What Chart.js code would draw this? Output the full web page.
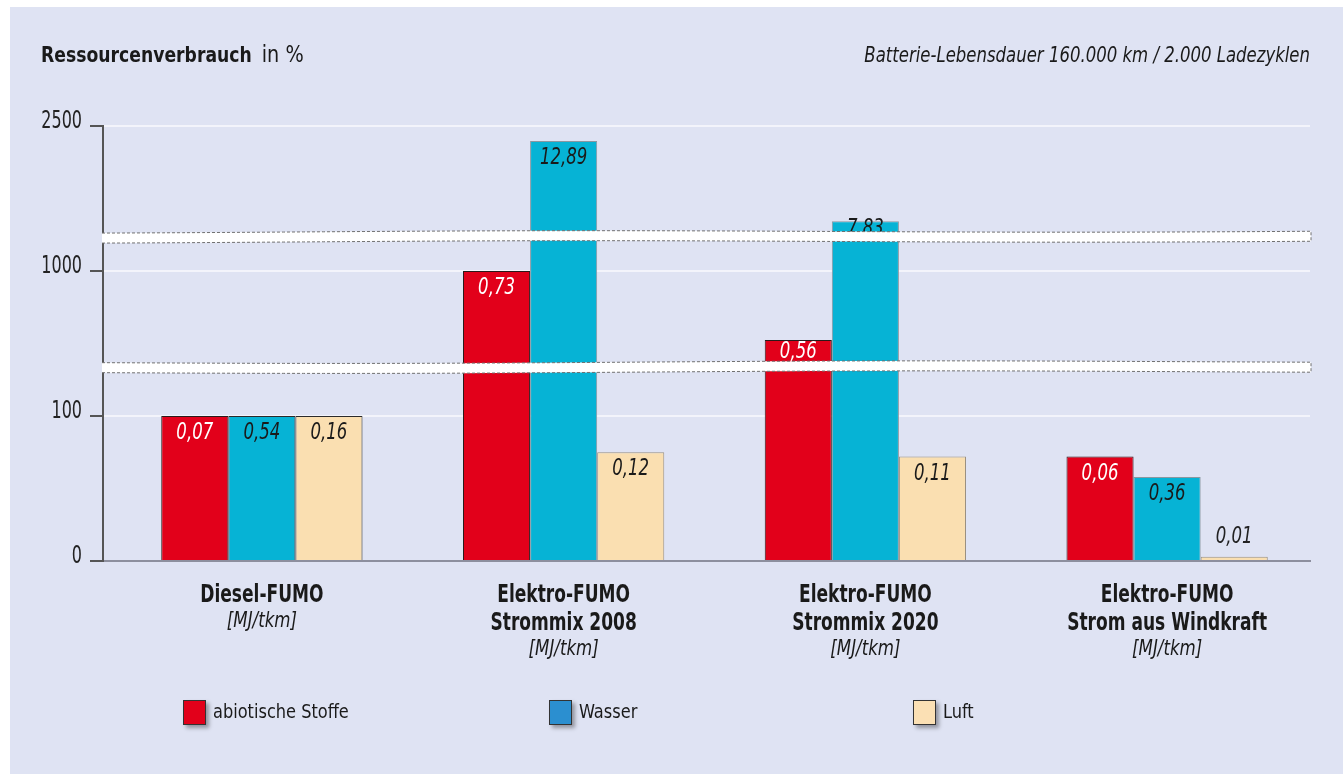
<!DOCTYPE html>
<html lang="de">
<head>
<meta charset="UTF-8">
<title>Ressourcenverbrauch</title>
<script src="https://cdn.jsdelivr.net/npm/chart.js"></script>
<style>
  body { margin: 0; background: #fff; }
  #rahmen { position: absolute; left: 10px; top: 7px; width: 1333px; height: 767px; background: #DFE3F3; }
</style>
</head>
<body>
<div id="rahmen"><canvas id="grafik" width="1333" height="767"></canvas></div>
<script>
// Daten (Prozent relativ zum Diesel-FUMO)
const kategorien = [["Diesel-FUMO"], ["Elektro-FUMO", "Strommix 2008"], ["Elektro-FUMO", "Strommix 2020"], ["Elektro-FUMO", "Strom aus Windkraft"]];
const einheit = "[MJ/tkm]";
const reihen = ["abiotische Stoffe", "Wasser", "Luft"];
const abiotisch = [100, 1000, 572, 72];
const wasser = [100, 2345, 1515, 58];
const luft = [100, 75, 72, 3];
const abiotischMJ = ["0,07", "0,73", "0,56", "0,06"];
const wasserMJ = ["0,54", "12,89", "7,83", "0,36"];
const luftMJ = ["0,16", "0,12", "0,11", "0,01"];
const yTicks = [0, 100, 1000, 2500];
const bruchStellen = [400, 1350];

const FONT = '"DejaVu Sans Condensed", "DejaVu Sans", sans-serif';

// gebrochene Achse: jeder Abschnitt zwischen zwei Ticks ist gleich hoch
class BrokenScale extends Chart.LinearScale {
  static id = 'broken';
  static defaults = {};
  buildTicks() {
    this.min = yTicks[0];
    this.max = yTicks[yTicks.length - 1];
    return yTicks.map(v => ({ value: v }));
  }
  anteil(v) {
    const n = yTicks.length - 1;
    for (let i = 0; i < n; i++) {
      if (v <= yTicks[i + 1] || i === n - 1) {
        return (i + (v - yTicks[i]) / (yTicks[i + 1] - yTicks[i])) / n;
      }
    }
    return 0;
  }
  getPixelForValue(v) {
    if (v === null || v === undefined) return NaN;
    return this.getPixelForDecimal(this.anteil(v));
  }
  getValueForPixel(p) {
    const d = this.getDecimalForPixel(p) * (yTicks.length - 1);
    const i = Math.min(Math.floor(d), yTicks.length - 2);
    return yTicks[i] + (d - i) * (yTicks[i + 1] - yTicks[i]);
  }
}
Chart.register(BrokenScale);

// schmale Schrift nachbilden (horizontal gestaucht)
function schmal(c, text, x, y, sx, align) {
  c.save();
  c.translate(x, y);
  c.scale(sx, 1);
  c.textAlign = align;
  c.fillText(text, 0, 0);
  c.restore();
}

const BAND = 5;

const beschriftung = {
  id: 'beschriftung',
  afterLayout(chart) {
    // Balkengruppen sitzen im Original etwas rechts von der Mitte
    chart.scales.x._startPixel += 8;
  },
  afterDatasetsDraw(chart) {
    const c = chart.ctx;
    const y = chart.scales.y;
    const area = chart.chartArea;
    const bandY = bruchStellen.map(v => y.getPixelForValue(v));
    c.save();
    // Werte in MJ/tkm in den Balken
    c.font = 'italic 23px ' + FONT;
    c.textBaseline = 'middle';
    chart.data.datasets.forEach((ds, d) => {
      chart.getDatasetMeta(d).data.forEach((bar, i) => {
        const innen = bar.base - bar.y > 40;
        let ty = innen ? bar.y + 17 : bar.y - 20;
        if (innen) {
          bandY.forEach(b => {
            if (Math.abs(ty - b) < 16 && b > bar.y) ty = Math.max(bar.y + 8, b - BAND - 11);
          });
        }
        c.fillStyle = innen ? ds.textFarbe : '#222';
        schmal(c, ds.mj[i], bar.x, ty, 0.8, 'center');
      });
    });
    // Achsenbrüche
    bandY.forEach((yc, k) => {
      const x0 = area.left - 1, x1 = area.right + 1;
      const welle = x => 1.0 * Math.sin((x - x0) / 170 + k * 2) - (x - x0) * 0.001;
      const schritte = 60;
      const rand = (oben) => {
        for (let s = 0; s <= schritte; s++) {
          const t = oben ? s : schritte - s;
          const x = x0 + (x1 - x0) * t / schritte;
          c.lineTo(x, yc + (oben ? -BAND : BAND) + welle(x));
        }
      };
      c.beginPath();
      rand(true);
      rand(false);
      c.closePath();
      c.fillStyle = '#fff';
      c.fill();
      c.strokeStyle = '#707070';
      c.lineWidth = 1;
      c.setLineDash([3, 2]);
      c.beginPath();
      rand(true);
      rand(false);
      c.stroke();
      c.setLineDash([]);
    });
    c.restore();
  },
  afterDraw(chart) {
    const c = chart.ctx;
    const x = chart.scales.x;
    const y = chart.scales.y;
    c.save();
    c.fillStyle = '#1a1a1a';
    c.textBaseline = 'alphabetic';
    // Titel
    c.font = 'bold 22px ' + FONT;
    schmal(c, 'Ressourcenverbrauch', 31, 55, 0.87, 'left');
    const w = c.measureText('Ressourcenverbrauch').width * 0.87;
    c.font = '23px ' + FONT;
    schmal(c, 'in %', 31 + w + 10, 55, 0.93, 'left');
    c.font = 'italic 22px ' + FONT;
    schmal(c, 'Batterie-Lebensdauer 160.000 km / 2.000 Ladezyklen', 1300, 55, 0.835, 'right');
    // y-Achsenbeschriftung
    c.fillStyle = '#222';
    c.font = '24px ' + FONT;
    yTicks.forEach(v => {
      schmal(c, String(v), 72, y.getPixelForValue(v) + 2, 0.74, 'right');
    });
    // Kategorien
    c.fillStyle = '#1a1a1a';
    kategorien.forEach((zeilen, i) => {
      const cx = x.getPixelForValue(i);
      let by = 595;
      c.font = 'bold 24px ' + FONT;
      zeilen.forEach((z, j) => {
        by = 595 + j * 28;
        schmal(c, z, cx, by, 0.79, 'center');
      });
      c.font = 'italic 21px ' + FONT;
      schmal(c, einheit, cx, by + 25, 0.88, 'center');
    });
    // Legende
    const legX = [173, 539, 903];
    const legFarben = ['#E2001A', '#2B8FD0', '#FBE0B4'];
    reihen.forEach((name, i) => {
      c.save();
      c.shadowColor = 'rgba(0,0,0,0.35)';
      c.shadowBlur = 4;
      c.shadowOffsetX = 3;
      c.shadowOffsetY = 3;
      c.fillStyle = legFarben[i];
      c.fillRect(legX[i], 693, 23, 25);
      c.restore();
      c.strokeStyle = '#333';
      c.lineWidth = 1;
      c.strokeRect(legX[i] + 0.5, 693.5, 22, 24);
      c.fillStyle = '#1a1a1a';
      c.textBaseline = 'middle';
      c.font = '20px ' + FONT;
      schmal(c, name, legX[i] + 30, 706, 0.9, 'left');
    });
    c.restore();
  }
};

const dunkel = (farbe) => (ctx) => ctx.dataIndex === 0 ? '#2a2a2a' : farbe;

new Chart(document.getElementById('grafik'), {
  type: 'bar',
  data: {
    labels: kategorien.map(k => k.join(' ')),
    datasets: [
      { label: reihen[0], data: abiotisch, backgroundColor: '#E2001A', borderColor: '#2a1a1a', borderWidth: 1, mj: abiotischMJ, textFarbe: '#fff' },
      { label: reihen[1], data: wasser, backgroundColor: '#06B3D5', borderColor: dunkel('#8a97a0'), borderWidth: 1, mj: wasserMJ, textFarbe: '#1a1a1a' },
      { label: reihen[2], data: luft, backgroundColor: '#FADFB1', borderColor: dunkel('#9a9080'), borderWidth: 1, mj: luftMJ, textFarbe: '#1a1a1a' }
    ]
  },
  options: {
    responsive: false,
    animation: false,
    layout: { padding: { top: 119, right: 33, bottom: 213, left: 0 } },
    datasets: { bar: { categoryPercentage: 0.667, barPercentage: 1 } },
    plugins: { legend: { display: false }, tooltip: { enabled: false } },
    scales: {
      x: {
        ticks: { display: false },
        grid: { display: false, drawTicks: false },
        border: { display: true, color: '#8d8f9e', width: 2 },
        afterFit: s => { s.height = 0; }
      },
      y: {
        type: 'broken',
        min: 0,
        max: 2500,
        ticks: { display: false },
        grid: { color: c => c.tick && c.tick.value === 0 ? 'rgba(0,0,0,0)' : '#F3F4FB', lineWidth: 2, tickLength: 13, tickColor: '#555' },
        border: { color: '#555', width: 2 },
        afterFit: s => { s.width = 93; }
      }
    }
  },
  plugins: [beschriftung]
});
</script>
</body>
</html>
